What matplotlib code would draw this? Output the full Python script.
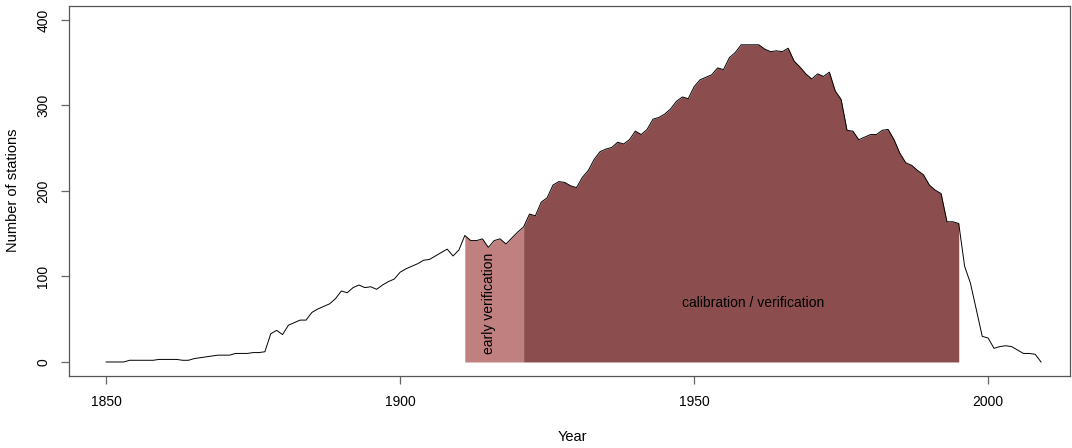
import numpy as np
import matplotlib
matplotlib.use("Agg")
import matplotlib.pyplot as plt

plt.rcParams['font.family'] = ['Liberation Sans', 'DejaVu Sans']

years = list(range(1850, 2010))
stations = [
    0, 0, 0, 0, 2, 2, 2, 2, 2, 3,          # 1850-1859
    3, 3, 3, 2, 2, 4, 5, 6, 7, 8,          # 1860-1869
    8, 8, 10, 10, 10, 11, 11, 12, 33, 37,  # 1870-1879
    32, 43, 46, 49, 49, 58, 62, 65, 68, 74,  # 1880-1889
    83, 81, 87, 90, 87, 88, 85, 90, 94, 97,  # 1890-1899
    105, 109, 112, 115, 119, 120, 124, 128, 132, 124,  # 1900-1909
    131, 148, 142, 142, 144, 134, 142, 144, 138, 145,  # 1910-1919
    152, 158, 173, 171, 187, 192, 207, 211, 210, 206,  # 1920-1929
    204, 216, 224, 237, 246, 249, 251, 257, 255, 260,  # 1930-1939
    270, 266, 272, 284, 286, 290, 296, 305, 310, 308,  # 1940-1949
    322, 330, 333, 336, 344, 342, 356, 362, 371, 371,  # 1950-1959
    371, 371, 366, 363, 364, 363, 367, 352, 345, 337,  # 1960-1969
    331, 337, 334, 339, 317, 307, 271, 270, 260, 263,  # 1970-1979
    266, 266, 271, 272, 260, 244, 233, 230, 224, 219,  # 1980-1989
    207, 201, 197, 164, 164, 162, 112, 92, 61, 30,     # 1990-1999
    28, 16, 18, 19, 18, 14, 10, 10, 9, 0,              # 2000-2009
]

early_period = (1911, 1921)
calib_period = (1921, 1995)
early_label = "early verification"
calib_label = "calibration / verification"
x_ticks = [1850, 1900, 1950, 2000]
y_ticks = [0, 100, 200, 300, 400]

yrs = np.array(years)
vals = np.array(stations)

fig = plt.figure(figsize=(10.72, 4.48), dpi=100)
ax = fig.add_axes([0.0639, 0.1607, 0.9341, 0.8248])

m1 = (yrs >= early_period[0]) & (yrs <= early_period[1])
ax.fill_between(yrs[m1], 0, vals[m1], color='#C08080', linewidth=0)
m2 = (yrs >= calib_period[0]) & (yrs <= calib_period[1])
ax.fill_between(yrs[m2], 0, vals[m2], color='#8B4D4D', linewidth=0)
ax.plot(yrs, vals, color='black', linewidth=0.7)

ax.text(1915.1, 69, early_label, rotation=90, ha='center', va='center', fontsize=10)
ax.text(1960, 69, calib_label, ha='center', va='center', fontsize=10)

ax.set_xlim(1843.6, 2013.9)
ax.set_ylim(-16.4, 415.8)
ax.set_xticks(x_ticks)
ax.set_yticks(y_ticks)
ax.set_yticklabels([str(t) for t in y_ticks], rotation=90, va='center')
ax.tick_params(axis='both', direction='out', length=6, width=0.9, color='#666666',
               labelsize=10, pad=8)
ax.tick_params(axis='y', pad=7)
for s in ax.spines.values():
    s.set_color('#555555')
    s.set_linewidth(0.9)

fig.text(0.5335, (448 - 437) / 448, "Year", ha='center', va='center', fontsize=10.5)
fig.text(13 / 1072, (448 - 190) / 448, "Number of stations", rotation=90,
         ha='center', va='center', fontsize=10.5)

fig.savefig("out.png", dpi=100)
